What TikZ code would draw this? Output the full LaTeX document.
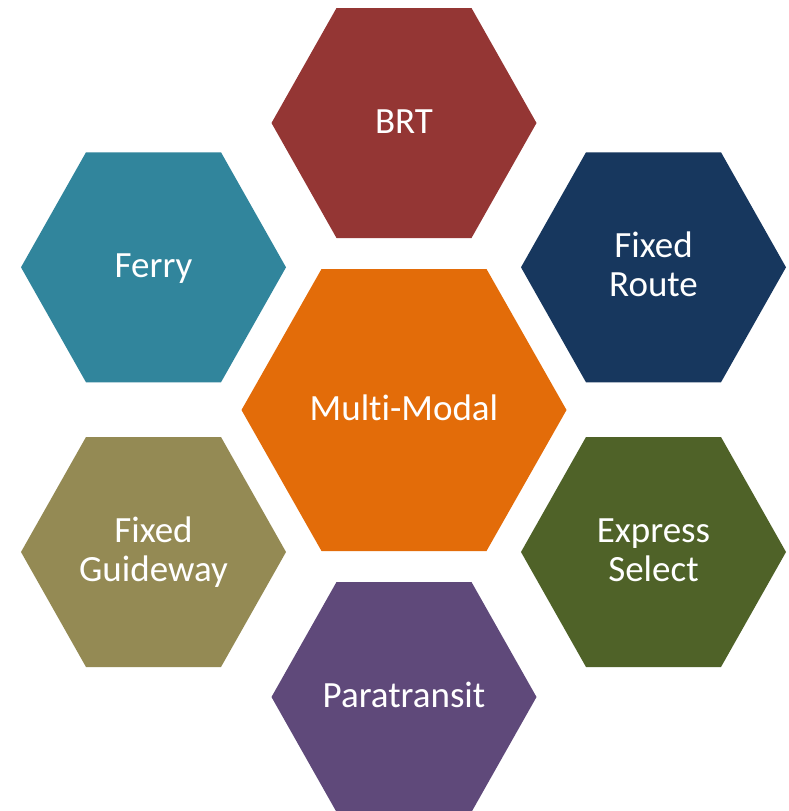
\documentclass[tikz,border=0pt]{standalone}
\usepackage{fontspec}
\setmainfont{Carlito}[Ligatures=NoCommon]
\definecolor{brtred}{HTML}{943634}
\definecolor{ferryteal}{HTML}{31859C}
\definecolor{routenavy}{HTML}{17375E}
\definecolor{huborange}{HTML}{E36C09}
\definecolor{guideolive}{HTML}{948A54}
\definecolor{expressgreen}{HTML}{4F6228}
\definecolor{parapurple}{HTML}{5F497A}
% line strut: height 28pt, depth 8pt, so the text block is centred like the slide text
\newcommand\hexstrut{\rule[-8pt]{0pt}{36pt}}
\tikzset{
  hexlabel/.style={text=white, inner sep=0pt, align=center,
    font=\fontsize{37}{39}\selectfont},
}
% small hexagon: name, x, y, colour, text
\newcommand\smallhex[5]{%
  \fill[#4] (#2,#3) ++(-132.5,0) -- ++(65,-115) -- ++(135,0) -- ++(65,115)
    -- ++(-65,115) -- ++(-135,0) -- cycle;
  \node[hexlabel] (#1) at (#2,#3) {#5};}
% large hexagon: name, x, y, colour, text
\newcommand\largehex[5]{%
  \fill[#4] (#2,#3) ++(-162.5,0) -- ++(80,-141) -- ++(165,0) -- ++(80,141)
    -- ++(-80,141) -- ++(-165,0) -- cycle;
  \node[hexlabel] (#1) at (#2,#3) {#5};}
\begin{document}
\begin{tikzpicture}[x=1pt,y=-1pt]
  \clip (0,0) rectangle (789,811);
  \fill[white] (0,0) rectangle (789,811);
  \smallhex{brt}{404}{123}{brtred}{\hexstrut BRT}
  \smallhex{ferry}{153.5}{267.3}{ferryteal}{\hexstrut Ferry}
  \smallhex{fixedroute}{653.5}{267.3}{routenavy}{\hexstrut Fixed\\\hexstrut Route}
  \largehex{multimodal}{404}{410}{huborange}{\hexstrut Multi-Modal}
  \smallhex{guideway}{153.5}{552}{guideolive}{\hexstrut Fixed\\\hexstrut Guideway}
  \smallhex{express}{653.5}{552}{expressgreen}{\hexstrut Express\\\hexstrut Select}
  \smallhex{paratransit}{404}{697}{parapurple}{\hexstrut Paratransit}
\end{tikzpicture}
\end{document}
